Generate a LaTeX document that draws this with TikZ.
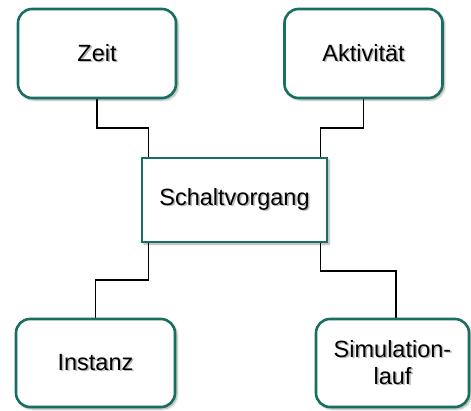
\documentclass[tikz,border=0pt]{standalone}
\usepackage{fontspec}
\setmainfont{Liberation Sans}
\usetikzlibrary{shadows.blur}
\definecolor{boxteal}{RGB}{24,110,96}
\pgfdeclarelayer{back}
\pgfsetlayers{back,main}
% text with a soft grey drop shadow behind it
\newcommand{\shadowed}[1]{\makebox[0pt][l]{\hspace{1.6pt}\raisebox{-1.6pt}{\textcolor{black!28}{#1}}}#1}
\tikzset{
  card/.style={draw=boxteal, line width=2.6pt, fill=white, rounded corners=14pt,
    minimum width=158pt, minimum height=89pt, inner sep=0pt, align=center,
    font=\fontsize{23.5}{27}\selectfont,
    blur shadow={shadow xshift=2pt, shadow yshift=-2pt, shadow blur steps=6, shadow opacity=35}},
  hub/.style={card, rounded corners=0pt, minimum width=185pt, minimum height=84pt},
  link/.style={draw=black, line width=1.3pt}
}
\begin{document}
\begin{tikzpicture}[x=1pt, y=-1pt]
  \useasboundingbox (0,0) rectangle (471,410);
  % outer boxes
  \node[card] (zeit) at (97,53.5) {\shadowed{Zeit}};
  \node[card] (akt) at (363.5,53.5) {\shadowed{Aktivität}};
  \node[card, minimum width=159pt, minimum height=88pt] (inst) at (95.5,363) {\shadowed{Instanz}};
  \node[card, minimum width=153pt, minimum height=88pt] (sim) at (392.5,363)
    {\shadowed{Simulation-}\\\shadowed{lauf}};
  % central box
  \node[hub] (sch) at (234.5,200) {\shadowed{Schaltvorgang}};
  % elbow connectors, kept behind the boxes
  \begin{pgfonlayer}{back}
    \draw[link] (zeit.center) |- ([xshift=8pt]sch.north west |- 0,128) -- ([xshift=8pt]sch.center -| sch.north west);
    \draw[link] (akt.center) |- ([xshift=-8pt]sch.north east |- 0,128) -- ([xshift=-8pt]sch.center -| sch.north east);
    \draw[link] ([xshift=8pt]sch.center -| sch.south west) |- (inst.center |- 0,280) -- (inst.center);
    \draw[link] ([xshift=-8pt]sch.center -| sch.south east) |- ([xshift=3.5pt]sim.center |- 0,271) -- ([xshift=3.5pt]sim.center);
  \end{pgfonlayer}
\end{tikzpicture}
\end{document}
